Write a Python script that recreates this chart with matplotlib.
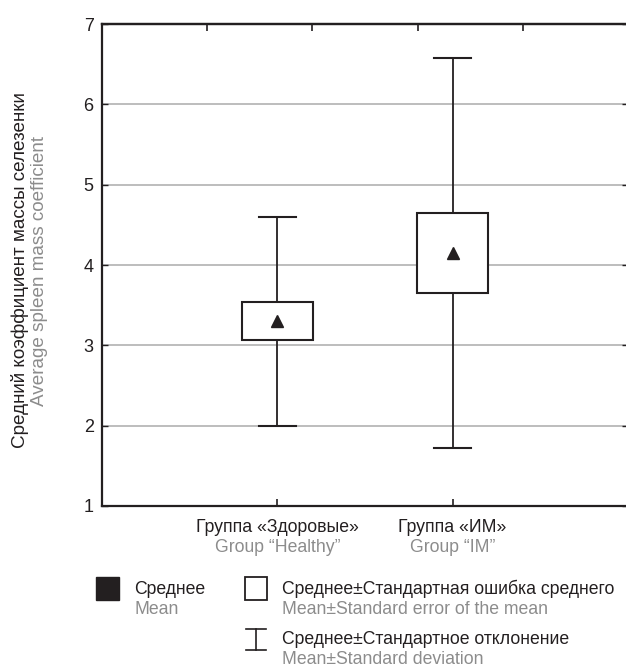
import matplotlib
matplotlib.use("Agg")
import matplotlib.pyplot as plt
from matplotlib.patches import Rectangle
from matplotlib.lines import Line2D
from matplotlib.transforms import blended_transform_factory

plt.rcParams['font.family'] = ['Liberation Sans', 'DejaVu Sans']

groups_ru = ['Группа «Здоровые»', 'Группа «ИМ»']
groups_en = ['Group “Healthy”', 'Group “IM”']
means = [3.30, 4.15]
sem = [0.235, 0.50]
sd = [1.30, 2.43]
yticks = [1, 2, 3, 4, 5, 6, 7]

W, H = 626, 670
DARK = '#231f20'
GREY = '#8c8c8c'
FS = 12.7
FS_Y = 13.6


def fx(px):
	return px / W


def fy(py):
	return 1 - py / H


fig = plt.figure(figsize=(W / 100, H / 100), dpi=100)
ax = fig.add_axes([fx(102), fy(506), fx(628) - fx(102), fy(24) - fy(506)])
ax.set_xlim(0, 3)
ax.set_ylim(1, 7)

ax.set_yticks(yticks)
ax.yaxis.grid(True, color='#b8b8b8', linewidth=1.3, zorder=0)
ax.set_axisbelow(True)

positions = [1, 2]
box_w = 0.405
cap_w = 0.21
for x, m, e, s in zip(positions, means, sem, sd):
	# whisker: mean +/- standard deviation
	ax.plot([x, x], [m - s, m + s], color=DARK, linewidth=1.3, zorder=2)
	ax.plot([x - cap_w / 2, x + cap_w / 2], [m + s, m + s], color=DARK, linewidth=1.5, zorder=2)
	ax.plot([x - cap_w / 2, x + cap_w / 2], [m - s, m - s], color=DARK, linewidth=1.5, zorder=2)
	# box: mean +/- standard error
	ax.add_patch(Rectangle((x - box_w / 2, m - e), box_w, 2 * e, facecolor='white',
		edgecolor=DARK, linewidth=1.5, zorder=3))
	ax.plot(x, m, marker='^', color=DARK, markersize=8, linestyle='none', zorder=4)

ax.set_xticks(positions)
ax.set_xticklabels([])
ax.tick_params(axis='x', direction='in', length=5, width=1.2, color=DARK)
ax.tick_params(axis='y', direction='in', length=4, width=1.0, color=DARK,
	labelsize=13, labelcolor=DARK, pad=6, right=True)

top = ax.secondary_xaxis('top')
top.set_xticks([0.6, 1.2, 1.8, 2.4])
top.set_xticklabels([])
top.tick_params(direction='in', length=5, width=1.2, color=DARK)
top.spines['top'].set_color(DARK)
top.spines['top'].set_linewidth(1.6)

for sp in ax.spines.values():
	sp.set_color(DARK)
	sp.set_linewidth(1.6)

# category labels under the axis
tr = blended_transform_factory(ax.transData, fig.transFigure)
for x, ru, en in zip(positions, groups_ru, groups_en):
	ax.text(x, fy(528), ru, transform=tr, ha='center', va='center', fontsize=FS, color=DARK)
	ax.text(x, fy(548), en, transform=tr, ha='center', va='center', fontsize=FS, color=GREY)

# y axis title
fig.text(fx(20), fy(270), 'Средний коэффициент массы селезенки', rotation=90,
	ha='center', va='center', fontsize=FS_Y, color=DARK)
fig.text(fx(40), fy(271), 'Average spleen mass coefficient', rotation=90,
	ha='center', va='center', fontsize=FS_Y, color=GREY)

# legend
fig.add_artist(Rectangle((fx(96), fy(600)), fx(119) - fx(96), fy(577) - fy(600),
	transform=fig.transFigure, facecolor=DARK, edgecolor=DARK, linewidth=1))
fig.text(fx(134), fy(589), 'Среднее', ha='left', va='center', fontsize=FS, color=DARK)
fig.text(fx(134), fy(610), 'Mean', ha='left', va='center', fontsize=FS, color=GREY)

fig.add_artist(Rectangle((fx(245), fy(600)), fx(267) - fx(245), fy(577) - fy(600),
	transform=fig.transFigure, facecolor='white', edgecolor=DARK, linewidth=1.3))
fig.text(fx(282), fy(589), 'Среднее±Стандартная ошибка среднего', ha='left', va='center',
	fontsize=FS, color=DARK)
fig.text(fx(282), fy(610), 'Mean±Standard error of the mean', ha='left', va='center',
	fontsize=FS, color=GREY)

fig.add_artist(Line2D([fx(256), fx(256)], [fy(629), fy(650)], transform=fig.transFigure,
	color=DARK, linewidth=1.2))
fig.add_artist(Line2D([fx(246), fx(266)], [fy(629), fy(629)], transform=fig.transFigure,
	color=DARK, linewidth=1.2))
fig.add_artist(Line2D([fx(246), fx(266)], [fy(650), fy(650)], transform=fig.transFigure,
	color=DARK, linewidth=1.2))
fig.text(fx(282), fy(639), 'Среднее±Стандартное отклонение', ha='left', va='center',
	fontsize=FS, color=DARK)
fig.text(fx(282), fy(659), 'Mean±Standard deviation', ha='left', va='center',
	fontsize=FS, color=GREY)

fig.savefig('out.png', dpi=100)
